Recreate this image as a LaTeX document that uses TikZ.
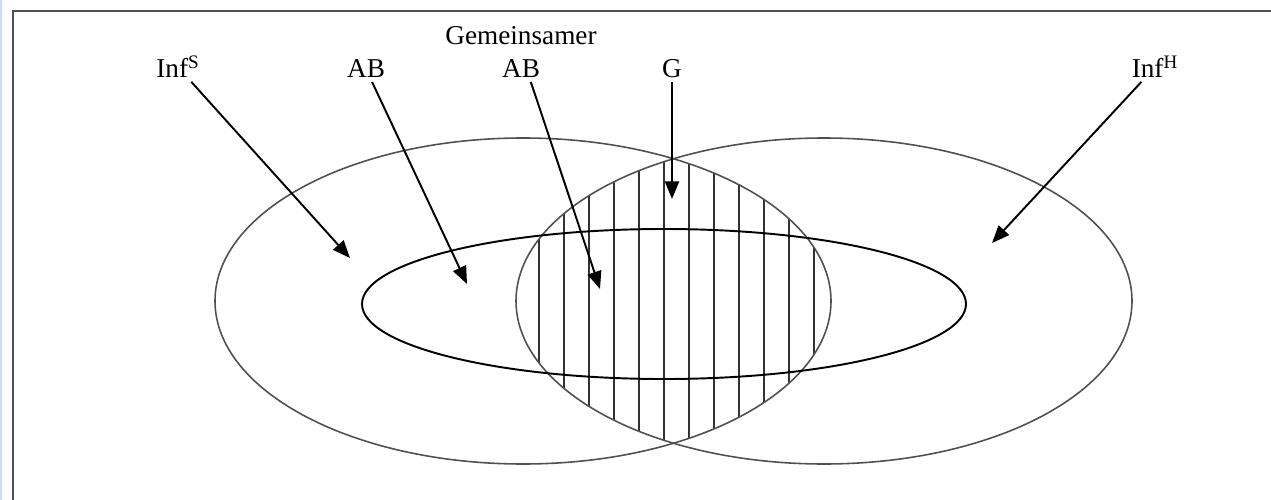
\documentclass[tikz,border=0pt]{standalone}
\usepackage{fontspec}
\setmainfont{Liberation Serif}
\usetikzlibrary{arrows.meta}
\definecolor{rim}{HTML}{505050}
\definecolor{hatch}{HTML}{333333}
\definecolor{edge}{HTML}{C8D8FF}

\begin{document}
\begin{tikzpicture}[x=0.02cm,y=-0.02cm,
    lbl/.style={font=\fontsize{15.5}{18.8}\selectfont,inner sep=2pt,align=center},
    outer/.style={draw=rim,line width=0.9pt},
    inner/.style={draw=black,line width=1.1pt},
    arrow/.style={-{Triangle[length=10pt,width=8pt]},line width=1.1pt}]
  \useasboundingbox (0,0) rectangle (1271,500);
  \fill[edge] (0,0) rectangle (2.5,500);
  \draw[rim,line width=0.9pt] (1271,11) -- (13,11) -- (13,500);

  % common part, hatched
  \begin{scope}
    \clip (523,301) ellipse [x radius=308,y radius=163];
    \clip (824,301) ellipse [x radius=308,y radius=163];
    \foreach \x in {0,...,11}
      \draw[hatch,line width=1.1pt] (539+25*\x,120) -- (539+25*\x,480);
  \end{scope}

  \draw[outer] (523,301) ellipse [x radius=308,y radius=163];
  \draw[outer] (824,301) ellipse [x radius=308,y radius=163];
  \draw[inner] (664,304) ellipse [x radius=302,y radius=75];

  \node[lbl,anchor=base] (infs) at (178,78) {Inf\textsuperscript{S}};
  \node[lbl,anchor=base] (ab) at (366,78) {AB};
  \node[lbl,anchor=base] (gem) at (521,78) {Gemeinsamer\\AB};
  \node[lbl,anchor=base] (g) at (672,78) {G};
  \node[lbl,anchor=base] (infh) at (1155,78) {Inf\textsuperscript{H}};

  \coordinate (tips) at (350,258);
  \coordinate (tipab) at (467,284);
  \coordinate (tipgem) at (600,289);
  \coordinate (tipg) at (672,199);
  \coordinate (tiph) at (992,243);

  \draw[arrow] (infs) -- (tips);
  \draw[arrow] (ab) -- (tipab);
  \draw[arrow] (gem) -- (tipgem);
  \draw[arrow] (g) -- (tipg);
  \draw[arrow] (infh) -- (tiph);
\end{tikzpicture}
\end{document}
